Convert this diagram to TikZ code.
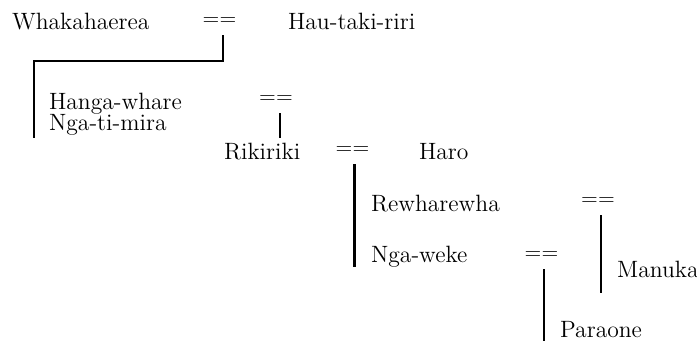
\documentclass[tikz,border=0pt]{standalone}
\usepackage{tikz}
\tikzset{
	pers/.style={anchor=base west, inner sep=0pt, font=\fontsize{11.8pt}{14pt}\selectfont},
	marr/.style={inner sep=0pt, minimum height=12pt, font=\fontsize{11pt}{14pt}\selectfont},
}

\begin{document}
\begin{tikzpicture}[x=0.5pt, y=-0.5pt, line width=1.1pt]
		\useasboundingbox (0,0) rectangle (697,341);
		
		\node[pers] (p1) at (11,30) {Whakahaerea};
		\node[marr] (m1) at (219.5,22) {==};
		\node[pers] (p2) at (287,30) {Hau-taki-riri};
		
		\node[pers, anchor=north west, align=left, font=\fontsize{11.8pt}{10.5pt}\selectfont] (p3) at (48,92.5) {Hanga-whare\\Nga-ti-mira};
		\node[marr] (m2) at (276,100) {==};
		
		\node[pers] (p5) at (223,160) {Rikiriki};
		\node[marr] (m3) at (352.5,151) {==};
		\node[pers] (p6) at (418,160) {Haro};
		
		\node[pers] (p7) at (370,212) {Rewharewha};
		\node[marr] (m4) at (598,202) {==};
		\node[pers] (p8) at (370,263) {Nga-weke};
		\node[marr] (m5) at (541.5,256) {==};
		
		\node[pers] (p9) at (616,278) {Manuka};
		\node[pers] (p10) at (559,338) {Paraone};
		
		\coordinate (k1) at (34,61);
		\coordinate (e1) at (34,138);
		\coordinate (e2) at (280,138);
		\coordinate (e3) at (354.5,267);
		\coordinate (e4) at (601,293);
		\coordinate (e5) at (544,341);
		
		\draw[-] ([xshift=1.75pt]m1.south) |- (k1) -- (e1);
		\draw[-] (m2.south -| e2) -- (e2);
		\draw[-] (m3.south -| e3) -- (e3);
		\draw[-] (m4.south -| e4) -- (e4);
		\draw[-] (m5.south -| e5) -- (e5);
		
		\end{tikzpicture}
\end{document}
